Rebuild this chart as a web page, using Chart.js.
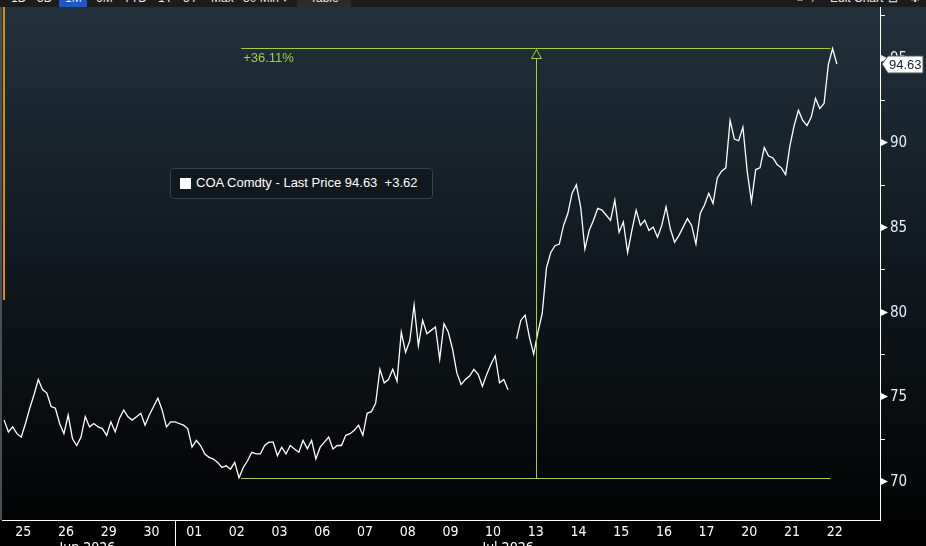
<!DOCTYPE html>
<html>
<head>
<meta charset="utf-8">
<script src="https://cdn.jsdelivr.net/npm/chart.js"></script>
<style>
html, body { margin: 0; padding: 0; background: #000; width: 926px; height: 546px; overflow: hidden; }
#bar { position: absolute; left: 0; top: 0; width: 926px; height: 7px; background: #1c1c1c; overflow: hidden;
       font: 12px 'Liberation Sans', Arial, sans-serif; color: #e6e6e6; }
#bar span { position: absolute; top: -9px; white-space: nowrap; }
#bar .sel { position: absolute; top: 0; left: 59px; width: 28px; height: 7px; background: #1d58c4; }
#bar .box { position: absolute; top: 0; left: 297px; width: 54px; height: 7px; background: #2a2a2a; }
#wrap { position: absolute; left: 0; top: 7px; width: 926px; height: 539px; }
#legendBox { position: absolute; left: 170px; top: 168px; width: 261px; height: 29px; border: 1px solid #3c4145;
             border-radius: 4px; background: #12191e; font: 13px 'Liberation Sans', Arial, sans-serif; color: #fff; }
#legendBox i { position: absolute; left: 9px; top: 9px; width: 11px; height: 11px; background: #fff; }
#legendBox b { position: absolute; left: 25px; top: 6px; font-weight: normal; white-space: pre; }
</style>
</head>
<body>
<div id="bar">
  <div class="sel"></div><div class="box"></div>
  <span style="left:11px">1D</span><span style="left:37px">5D</span><span style="left:65px">1M</span>
  <span style="left:96px">6M</span><span style="left:123px">YTD</span><span style="left:158px">1Y</span>
  <span style="left:183px">5Y</span><span style="left:211px">Max</span><span style="left:243px">30 Min ▾</span>
  <span style="left:310px">Table</span>
  <span style="left:796px">«</span><span style="left:814px">⁄</span><span style="left:830px">Edit Chart</span>
  <span style="left:888px">⊡</span><span style="left:910px">✱</span>
</div>
<div id="wrap"><canvas id="chart" width="926" height="539"></canvas></div>
<div id="legendBox"><i></i><b>COA Comdty - Last Price 94.63  +3.62</b></div>

<script>
// dias de negociação (30 min, 10 pontos por dia)
const dayLabels = ['25', '26', '29', '30', '01', '02', '03', '06', '07', '08', '09', '10', '13', '14', '15', '16', '17', '20', '21', '22'];
const monthLabels = ['Jun 2026', 'Jul 2026'];
const monthCenters = [2.0, 11.85];
const monthBreak = 4.05;
const ptsPerDay = 10;

const lastPrice = [
    73.6, 72.9, 73.2, 72.8, 72.6, 73.4, 74.3, 75.1, 76.0, 75.4,
    75.2, 74.4, 74.3, 73.4, 72.8, 73.9, 72.5, 72.1, 72.6, 73.8,
    73.2, 73.4, 73.2, 73.1, 72.7, 73.5, 72.9, 73.7, 74.2, 73.8,
    73.6, 73.8, 74.0, 73.3, 73.9, 74.4, 74.9, 74.2, 73.2, 73.5,
    73.5, 73.4, 73.3, 73.1, 72.0, 72.4, 72.1, 71.6, 71.4, 71.3,
    71.1, 70.8, 70.9, 70.7, 71.1, 70.2, 70.8, 71.2, 71.7, 71.6,
    71.6, 72.1, 72.3, 72.3, 71.5, 72.0, 71.6, 72.1, 71.9, 71.7,
    72.4, 71.9, 72.4, 71.3, 72.0, 72.3, 72.6, 71.9, 72.1, 72.1,
    72.7, 72.8, 73.0, 73.3, 72.7, 74.0, 74.1, 74.6, 76.6, 75.8,
    76.0, 76.6, 75.9, 78.8, 77.6, 78.3, 80.4, 78.0, 79.5, 78.7,
    78.9, 79.1, 77.2, 79.3, 78.8, 77.8, 76.4, 75.7, 76.0, 76.2,
    76.6, 76.3, 75.6, 76.3, 76.9, 77.4, 75.8, 76.0, 75.4, null,
    78.4, 79.5, 79.8, 78.5, 77.5, 78.8, 79.9, 82.6, 83.5, 83.9,
    84.0, 85.1, 85.8, 87.0, 87.5, 86.2, 83.7, 84.8, 85.4, 86.1,
    86.0, 85.7, 85.4, 86.6, 84.7, 85.3, 83.5, 84.8, 86.0, 85.1,
    85.4, 84.8, 85.0, 84.4, 85.1, 86.2, 84.9, 84.1, 84.5, 85.0,
    85.5, 85.1, 84.0, 85.8, 86.3, 87.0, 86.4, 87.9, 88.3, 88.5,
    91.3, 90.2, 90.1, 90.9, 88.3, 86.5, 88.4, 88.5, 89.7, 89.2,
    89.1, 88.7, 88.5, 88.1, 89.8, 91.0, 91.9, 91.3, 91.0, 91.5,
    92.6, 92.0, 92.3, 94.6, 95.55, 94.63
];

const yTicks = [70, 72.5, 75, 77.5, 80, 82.5, 85, 87.5, 90, 92.5, 95, 97.5];
const last = 94.63;

// anotação de variação
const moveLow = [5.6, 70.2];
const moveHigh = [19.4, 95.55];
const moveText = '+36.11%';

const green = '#9fd23c';
const axisFont = "'Liberation Sans Narrow', 'DejaVu Sans Condensed', Arial, sans-serif";

const pontos = lastPrice.map((v, i) => ({ x: i / ptsPerDay + 0.5 / ptsPerDay, y: v }));

const bgPlugin = {
    id: 'bg',
    beforeDraw(chart) {
        const { ctx, chartArea: a } = chart;
        ctx.save();
        ctx.fillStyle = '#000';
        ctx.fillRect(0, 0, chart.width, chart.height);
        const g = ctx.createLinearGradient(0, a.top, 0, a.bottom);
        g.addColorStop(0, '#22313c');
        g.addColorStop(0.45, '#121b22');
        g.addColorStop(1, '#030404');
        ctx.fillStyle = g;
        ctx.fillRect(0, a.top, chart.width, a.bottom - a.top);
        ctx.restore();
    }
};

const movePlugin = {
    id: 'move',
    afterDatasetsDraw(chart) {
        const { ctx, scales: { x, y } } = chart;
        const x1 = x.getPixelForValue(moveLow[0]);
        const x2 = x.getPixelForValue(moveHigh[0]);
        const yLo = Math.round(y.getPixelForValue(moveLow[1])) + 0.5;
        const yHi = Math.round(y.getPixelForValue(moveHigh[1])) + 0.5;
        const xm = Math.round((x1 + x2) / 2) + 0.5;
        ctx.save();
        ctx.strokeStyle = green;
        ctx.lineWidth = 1;
        ctx.beginPath();
        ctx.moveTo(x1, yHi); ctx.lineTo(x2, yHi);
        ctx.moveTo(x1, yLo); ctx.lineTo(x2, yLo);
        ctx.moveTo(xm, yLo); ctx.lineTo(xm, yHi + 10);
        ctx.stroke();
        ctx.beginPath();
        ctx.moveTo(xm, yHi + 1);
        ctx.lineTo(xm - 5, yHi + 10);
        ctx.lineTo(xm + 5, yHi + 10);
        ctx.closePath();
        ctx.stroke();
        ctx.fillStyle = green;
        ctx.font = "13px 'Liberation Sans', Arial, sans-serif";
        ctx.textBaseline = 'top';
        ctx.fillText(moveText, x1 + 2, yHi + 3);
        ctx.restore();
    }
};

const axisPlugin = {
    id: 'axisMarks',
    afterDraw(chart) {
        const { ctx, chartArea: a, scales: { x, y } } = chart;
        ctx.save();
        // borda esquerda
        ctx.fillStyle = '#4a4f52';
        ctx.fillRect(0, a.top, 2, a.bottom - a.top);
        ctx.fillStyle = '#e08a12';
        ctx.fillRect(3, a.top, 2, 293);
        // marcas e rótulos do eixo y
        ctx.fillStyle = '#fff';
        ctx.strokeStyle = '#fff';
        ctx.font = '15px ' + axisFont;
        ctx.textBaseline = 'middle';
        yTicks.forEach(v => {
            const py = Math.round(y.getPixelForValue(v)) + 0.5;
            if (v % 5 === 0) {
                ctx.fillStyle = '#fff';
                ctx.beginPath();
                ctx.moveTo(a.right + 1, py - 3.5);
                ctx.lineTo(a.right + 8, py);
                ctx.lineTo(a.right + 1, py + 3.5);
                ctx.closePath();
                ctx.fill();
                ctx.fillStyle = '#e4eef6';
                ctx.fillText(String(v), a.right + 10, py + 1);
            } else {
                ctx.beginPath();
                ctx.moveTo(a.right, py);
                ctx.lineTo(a.right + 5, py);
                ctx.stroke();
            }
        });
        // separador de mês e rótulos
        ctx.fillStyle = '#fff';
        const sx = Math.round(x.getPixelForValue(monthBreak)) + 0.5;
        ctx.beginPath();
        ctx.moveTo(sx, a.bottom);
        ctx.lineTo(sx, chart.height);
        ctx.stroke();
        ctx.font = '14px ' + axisFont;
        ctx.textAlign = 'center';
        ctx.textBaseline = 'top';
        monthLabels.forEach((m, i) => {
            ctx.fillText(m, x.getPixelForValue(monthCenters[i]), a.bottom + 21);
        });
        // etiqueta do último preço
        const py = Math.round(y.getPixelForValue(last));
        ctx.beginPath();
        ctx.moveTo(a.right + 2, py);
        ctx.lineTo(a.right + 8, py - 8);
        ctx.lineTo(chart.width - 3, py - 8);
        ctx.lineTo(chart.width - 3, py + 9);
        ctx.lineTo(a.right + 8, py + 9);
        ctx.closePath();
        ctx.fillStyle = '#fff';
        ctx.fill();
        ctx.strokeStyle = '#555';
        ctx.stroke();
        ctx.fillStyle = '#14202c';
        ctx.font = "13px 'Liberation Sans', Arial, sans-serif";
        ctx.textAlign = 'left';
        ctx.textBaseline = 'middle';
        ctx.fillText(last.toFixed(2), a.right + 9, py + 1);
        ctx.restore();
    }
};

new Chart(document.getElementById('chart'), {
    type: 'line',
    data: {
        datasets: [{
            label: 'COA Comdty - Last Price',
            data: pontos,
            borderColor: '#ffffff',
            borderWidth: 1.3,
            pointRadius: 0,
            tension: 0,
            spanGaps: false
        }]
    },
    options: {
        responsive: false,
        animation: false,
        events: [],
        layout: { padding: { left: 2, top: 0, right: 0, bottom: 0 } },
        plugins: { legend: { display: false }, tooltip: { enabled: false } },
        scales: {
            x: {
                type: 'linear',
                min: 0,
                max: 20.56,
                grid: { display: false, drawTicks: false },
                border: { display: true, color: '#ffffff', width: 1 },
                afterBuildTicks: s => { s.ticks = dayLabels.map((d, i) => ({ value: i + 0.5 })); },
                afterFit: s => { s.height = 26; },
                ticks: {
                    color: '#ffffff',
                    font: { family: axisFont, size: 14 },
                    padding: 4,
                    autoSkip: false,
                    maxRotation: 0,
                    callback: (v, i) => dayLabels[i]
                }
            },
            y: {
                position: 'right',
                min: 67.7,
                max: 98.0,
                grid: { display: false, drawTicks: false },
                border: { display: true, color: '#ffffff', width: 1 },
                afterBuildTicks: s => { s.ticks = yTicks.map(v => ({ value: v })); },
                afterFit: s => { s.width = 46; },
                ticks: { display: false }
            }
        }
    },
    plugins: [bgPlugin, movePlugin, axisPlugin]
});
</script>
</body>
</html>
